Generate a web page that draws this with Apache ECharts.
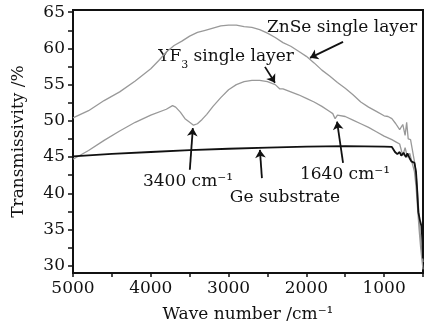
<!DOCTYPE html>
<html lang="en">
<head>
  <meta charset="UTF-8">
  <title>Transmissivity</title>
  <style>
    html, body { margin: 0; padding: 0; background: #fff; }
  </style>
</head>
<body>
  <div id="main" style="width: 432px; height: 330px"></div>
  <script src="https://cdn.jsdelivr.net/npm/echarts@6.0.0/dist/echarts.min.js"></script>
  <script>
    // wave number (cm-1) and transmissivity (%)
    const znseWn = [5000, 4800, 4600, 4400, 4200, 4000, 3900, 3800, 3700, 3600, 3500, 3400, 3300, 3200, 3100, 3000, 2900, 2800, 2700, 2600, 2500, 2400, 2300, 2200, 2100, 2000, 1900, 1800, 1700, 1600, 1500, 1400, 1300, 1200, 1100, 1000, 950, 900, 850, 800, 760, 730, 710, 690, 660, 640, 620, 600, 580, 560, 540, 520, 500];
    const znseVal = [50.4, 51.4, 52.8, 54.0, 55.5, 57.2, 58.3, 59.5, 60.4, 61.0, 61.7, 62.2, 62.5, 62.8, 63.1, 63.2, 63.2, 63.0, 62.9, 62.6, 62.1, 61.5, 60.8, 60.3, 59.6, 58.9, 58.0, 57.0, 56.2, 55.3, 54.5, 53.6, 52.6, 51.9, 51.3, 50.7, 50.6, 50.3, 49.6, 48.8, 49.5, 48.0, 49.8, 47.5, 47.4, 46.2, 45.0, 43.8, 41.5, 38.5, 35.0, 32.5, 30.5];

    const yf3Wn = [5000, 4800, 4600, 4400, 4200, 4000, 3800, 3720, 3680, 3620, 3560, 3500, 3450, 3400, 3340, 3280, 3200, 3100, 3000, 2900, 2800, 2700, 2600, 2500, 2400, 2340, 2300, 2200, 2100, 2000, 1900, 1800, 1700, 1660, 1630, 1600, 1500, 1400, 1300, 1200, 1100, 1000, 900, 850, 800, 760, 730, 700, 670, 640, 610, 590, 570, 550, 530, 510, 500];
    const yf3Val = [44.7, 45.9, 47.3, 48.6, 49.8, 50.8, 51.6, 52.1, 51.9, 51.2, 50.3, 49.8, 49.4, 49.6, 50.2, 50.9, 52.0, 53.2, 54.3, 55.0, 55.4, 55.6, 55.6, 55.4, 55.0, 54.4, 54.4, 54.0, 53.6, 53.1, 52.6, 52.0, 51.3, 51.0, 50.3, 50.8, 50.6, 50.1, 49.6, 49.1, 48.5, 47.9, 47.4, 47.1, 46.8, 45.2, 46.3, 45.0, 45.5, 44.2, 43.0, 41.0, 38.0, 35.0, 32.5, 30.5, 29.5];

    const geWn = [5000, 4500, 4000, 3500, 3000, 2500, 2000, 1500, 1000, 900, 860, 830, 800, 780, 750, 720, 700, 670, 650, 610, 590, 575, 560, 540, 520, 505, 500];
    const geVal = [45.1, 45.45, 45.7, 45.95, 46.15, 46.3, 46.45, 46.5, 46.45, 46.4, 45.7, 45.4, 45.7, 45.2, 45.6, 45.0, 45.5, 44.8, 44.4, 44.2, 43.0, 40.5, 37.4, 36.3, 35.5, 33.0, 31.0];

    // axis ticks
    const xLabels = [5000, 4000, 3000, 2000, 1000];
    const xTicks = [5000, 4500, 4000, 3500, 3000, 2500, 2000, 1500, 1000, 500];
    const yLabels = [30, 35, 40, 45, 50, 55, 60, 65];
    const yTicks = [30, 32.5, 35, 37.5, 40, 42.5, 45, 47.5, 50, 52.5, 55, 57.5, 60, 62.5, 65];

    // annotation arrows: [tail, head] in data coordinates
    const arrows = [
      [[1528, 60.9], [1953, 58.7]],
      [[2532, 57.45], [2403, 55.25]],
      [[3498, 43.25], [3459, 49.0]],
      [[2571, 42.1], [2597, 46.0]],
      [[1528, 44.2], [1605, 49.9]]
    ];

    const font = 'DejaVu Serif';
    const ink = '#111';
    const textFont = '17px "DejaVu Serif"';

    function pairs(xs, ys) {
      return xs.map((x, i) => [x, ys[i]]);
    }

    const myChart = echarts.init(document.getElementById('main'));
    const option = {
      animation: false,
      backgroundColor: '#fff',
      grid: {
        left: 73, right: 9, top: 10, bottom: 57,
        show: true, borderColor: ink, borderWidth: 2
      },
      xAxis: {
        type: 'value', min: 500, max: 5000, inverse: true,
        name: 'Wave number /cm⁻¹', nameLocation: 'middle', nameGap: 33,
        nameTextStyle: { fontFamily: font, fontSize: 17, color: ink },
        axisLine: { lineStyle: { color: ink, width: 2 } },
        axisTick: { length: 4, customValues: xTicks, lineStyle: { color: ink, width: 1.5 } },
        axisLabel: { customValues: xLabels, formatter: v => String(v), fontFamily: font, fontSize: 17, color: ink, margin: 7 },
        splitLine: { show: false }
      },
      yAxis: {
        type: 'value', min: 29, max: 65.3,
        name: 'Transmissivity /%', nameLocation: 'middle', nameGap: 46,
        nameTextStyle: { fontFamily: font, fontSize: 17, color: ink },
        axisLine: { show: true, lineStyle: { color: ink, width: 2 } },
        axisTick: { show: true, length: 5, customValues: yTicks, lineStyle: { color: ink, width: 1.5 } },
        axisLabel: { customValues: yLabels, fontFamily: font, fontSize: 17, color: ink, margin: 8 },
        splitLine: { show: false }
      },
      series: [
        {
          name: 'ZnSe', type: 'line', symbol: 'none', silent: true,
          data: pairs(znseWn, znseVal),
          lineStyle: { color: '#999', width: 1.3 }
        },
        {
          name: 'YF3', type: 'line', symbol: 'none', silent: true,
          data: pairs(yf3Wn, yf3Val),
          lineStyle: { color: '#999', width: 1.3 }
        },
        {
          name: 'Ge', type: 'line', symbol: 'none', silent: true, z: 3,
          data: pairs(geWn, geVal),
          lineStyle: { color: ink, width: 1.8 },
          markLine: {
            silent: true, animation: false,
            symbol: ['none', 'arrow'], symbolSize: 8,
            label: { show: false },
            lineStyle: { color: ink, width: 1.8, type: 'solid' },
            emphasis: { disabled: true },
            data: arrows.map(a => [{ coord: a[0] }, { coord: a[1] }])
          }
        }
      ],
      graphic: [
        { type: 'text', x: 342, y: 28, style: { text: 'ZnSe single layer', font: textFont, fill: ink, align: 'center', verticalAlign: 'middle' } },
        {
          type: 'text', x: 226, y: 57,
          style: {
            text: 'YF{sub|3} single layer', font: textFont, fill: ink, align: 'center', verticalAlign: 'middle',
            rich: { sub: { fontFamily: font, fontSize: 11, padding: [16, 0, 0, 0] } }
          }
        },
        { type: 'text', x: 188, y: 182, style: { text: '3400 cm⁻¹', font: textFont, fill: ink, align: 'center', verticalAlign: 'middle' } },
        { type: 'text', x: 285, y: 198, style: { text: 'Ge substrate', font: textFont, fill: ink, align: 'center', verticalAlign: 'middle' } },
        { type: 'text', x: 345, y: 175, style: { text: '1640 cm⁻¹', font: textFont, fill: ink, align: 'center', verticalAlign: 'middle' } }
      ]
    };
    myChart.setOption(option);
  </script>
</body>
</html>
